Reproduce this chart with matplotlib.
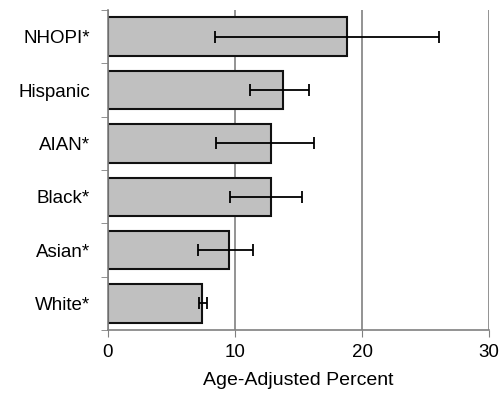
import numpy as np
import matplotlib
matplotlib.use('Agg')
import matplotlib.pyplot as plt

# Age-adjusted percent by race/ethnicity, with confidence intervals
groups = ['White*', 'Asian*', 'Black*', 'AIAN*', 'Hispanic', 'NHOPI*']
percent = [7.4, 9.5, 12.8, 12.8, 13.8, 18.8]
ci_low = [7.15, 7.1, 9.6, 8.5, 11.2, 8.4]
ci_high = [7.8, 11.4, 15.3, 16.2, 15.8, 26.1]

plt.rcParams['font.family'] = ['Liberation Sans', 'DejaVu Sans']

fig = plt.figure(figsize=(5.03, 3.93), dpi=100)
ax = fig.add_axes([0.2147, 0.160, 0.7575, 0.8146])

y = np.arange(len(groups))
xerr = [np.array(percent) - np.array(ci_low), np.array(ci_high) - np.array(percent)]
ax.barh(y, percent, height=0.72, color='#c0c0c0', edgecolor='#111111', linewidth=1.5, zorder=2)
ax.errorbar(percent, y, xerr=xerr, fmt='none', ecolor='black', elinewidth=1.3,
            capsize=4, capthick=1.3, zorder=3)

ax.set_xlim(0, 30)
ax.set_ylim(-0.5, len(groups) - 0.5)
ax.set_xticks([0, 10, 20, 30])
ax.set_yticks(y)
ax.set_yticklabels(groups)
ax.set_yticks(np.arange(-0.5, len(groups)), minor=True)
ax.tick_params(axis='y', which='major', length=0, labelsize=13.5, pad=13)
ax.tick_params(axis='y', which='minor', length=5, color='#808080', direction='out')
ax.tick_params(axis='x', length=5, color='#808080', labelsize=13.5, pad=5)
ax.xaxis.grid(True, color='#808080', linewidth=1.2, zorder=0)
ax.set_axisbelow(True)

for s in ['top', 'right']:
    ax.spines[s].set_visible(False)
for s in ['left', 'bottom']:
    ax.spines[s].set_color('#808080')
    ax.spines[s].set_linewidth(1.2)

ax.set_xlabel('Age-Adjusted Percent', fontsize=14, labelpad=8)

fig.savefig('out.png', dpi=100)
